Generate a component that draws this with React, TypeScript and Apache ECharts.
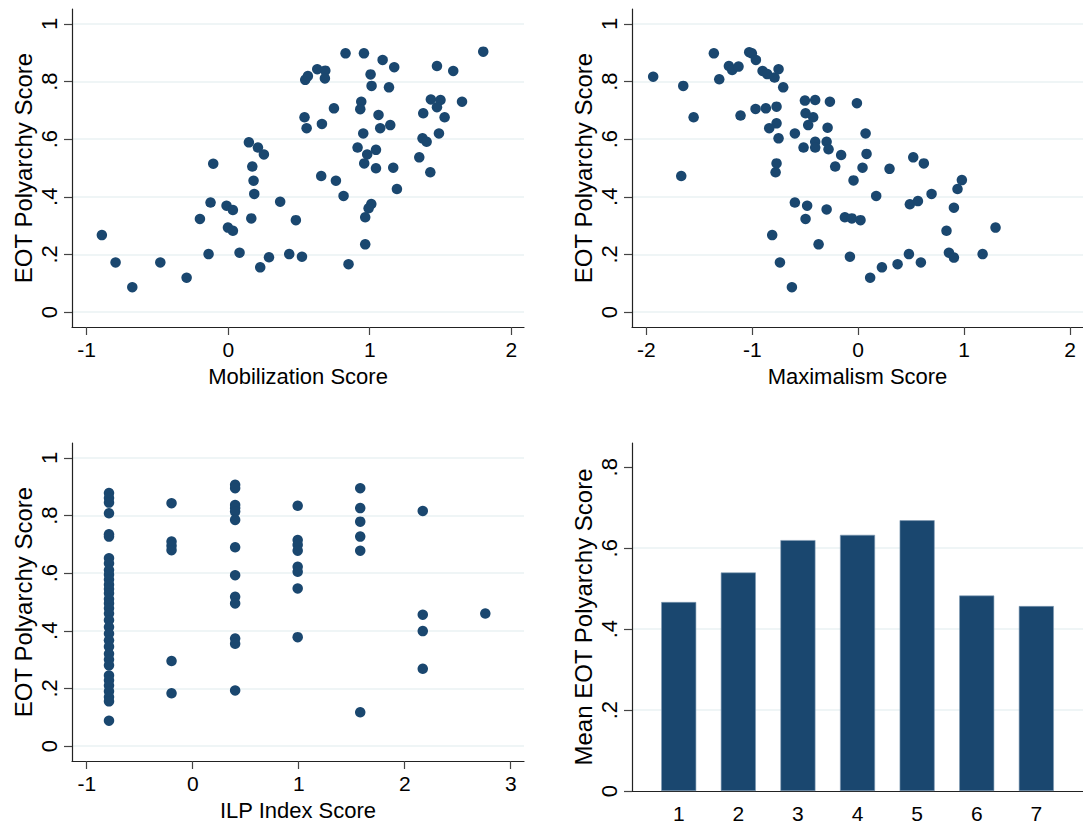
import React, { useEffect, useRef } from "react";
import * as echarts from "echarts";

// ---- Data ----
const mobilizationPoints: [number, number][] = [
  [-0.893, 0.267], [-0.796, 0.172], [-0.678, 0.086], [-0.48, 0.172], [-0.294, 0.119],
  [-0.2, 0.323], [-0.139, 0.201], [-0.125, 0.38], [-0.106, 0.515], [-0.012, 0.369],
  [0.033, 0.354], [-0.002, 0.293], [0.033, 0.282], [0.08, 0.206], [0.146, 0.589],
  [0.21, 0.571], [0.252, 0.547], [0.17, 0.505], [0.179, 0.456], [0.184, 0.41],
  [0.163, 0.325], [0.226, 0.155], [0.288, 0.19], [0.367, 0.383], [0.431, 0.201],
  [0.478, 0.319], [0.521, 0.192],
  [0.544, 0.806], [0.563, 0.819], [0.629, 0.843], [0.686, 0.838], [0.683, 0.811],
  [0.539, 0.676], [0.554, 0.638], [0.662, 0.653], [0.747, 0.707], [0.829, 0.898],
  [0.959, 0.898], [1.091, 0.875], [1.173, 0.85], [1.006, 0.825], [1.013, 0.785],
  [1.136, 0.78], [0.94, 0.73], [0.933, 0.704], [1.062, 0.684], [1.074, 0.638],
  [1.145, 0.649], [0.954, 0.62], [0.914, 0.571], [0.982, 0.547], [1.044, 0.563],
  [0.961, 0.516], [1.044, 0.499], [1.166, 0.501], [0.657, 0.472], [0.761, 0.456],
  [0.815, 0.403], [1.192, 0.427], [1.011, 0.375], [0.992, 0.36], [0.968, 0.329],
  [0.968, 0.235], [0.85, 0.166], [1.802, 0.904], [1.475, 0.854], [1.59, 0.837],
  [1.432, 0.738], [1.5, 0.736], [1.475, 0.711], [1.652, 0.73], [1.378, 0.69],
  [1.529, 0.676], [1.373, 0.603], [1.402, 0.591], [1.489, 0.62], [1.35, 0.537],
  [1.428, 0.485],
];

const maximalismPoints: [number, number][] = [
  [-1.936, 0.817], [-1.652, 0.785], [-1.554, 0.676], [-1.671, 0.472], [-1.363, 0.898],
  [-1.312, 0.808], [-1.221, 0.854], [-1.19, 0.84], [-1.13, 0.852], [-1.111, 0.682],
  [-1.029, 0.902], [-1.004, 0.898], [-0.966, 0.875], [-0.969, 0.705], [-0.903, 0.837],
  [-0.859, 0.826], [-0.872, 0.707], [-0.79, 0.814], [-0.752, 0.843], [-0.708, 0.78],
  [-0.771, 0.713], [-0.771, 0.655], [-0.84, 0.638], [-0.752, 0.603], [-0.771, 0.516],
  [-0.78, 0.485], [-0.598, 0.62], [-0.598, 0.38], [-0.812, 0.267], [-0.739, 0.172],
  [-0.626, 0.086], [-0.503, 0.734], [-0.497, 0.69], [-0.425, 0.676], [-0.472, 0.649],
  [-0.406, 0.736], [-0.267, 0.73], [-0.516, 0.571], [-0.406, 0.591], [-0.406, 0.571],
  [-0.482, 0.369], [-0.497, 0.323], [-0.374, 0.235], [-0.289, 0.64], [-0.298, 0.591],
  [-0.28, 0.565], [-0.298, 0.356], [-0.217, 0.505], [-0.161, 0.545], [-0.012, 0.725],
  [0.07, 0.62], [0.079, 0.549], [0.041, 0.501], [-0.044, 0.457], [0.296, 0.497],
  [0.52, 0.537], [0.62, 0.516], [0.17, 0.403], [-0.126, 0.329], [-0.06, 0.325],
  [0.022, 0.319], [0.488, 0.374], [0.564, 0.385], [0.693, 0.41], [0.979, 0.458],
  [0.938, 0.427], [0.904, 0.362], [0.834, 0.282], [1.297, 0.293], [-0.078, 0.192],
  [0.113, 0.119], [0.224, 0.155], [0.372, 0.166], [0.479, 0.201], [0.592, 0.172],
  [0.857, 0.206], [0.904, 0.189], [1.175, 0.201],
];

const ilpLevels: number[] = [-0.79, -0.2, 0.4, 0.99, 1.58, 2.17, 2.76];
const ilpScores: number[][] = [
  [0.878, 0.861, 0.845, 0.808, 0.735, 0.727, 0.652, 0.634, 0.611, 0.595, 0.578, 0.56,
    0.545, 0.53, 0.51, 0.495, 0.478, 0.46, 0.437, 0.413, 0.39, 0.367, 0.345, 0.32, 0.3,
    0.28, 0.245, 0.228, 0.21, 0.19, 0.17, 0.155, 0.088],
  [0.843, 0.71, 0.695, 0.68, 0.295, 0.183],
  [0.907, 0.895, 0.837, 0.826, 0.814, 0.785, 0.69, 0.593, 0.518, 0.495, 0.373, 0.355, 0.193],
  [0.834, 0.715, 0.698, 0.678, 0.622, 0.605, 0.547, 0.378],
  [0.895, 0.826, 0.779, 0.727, 0.678, 0.117],
  [0.816, 0.456, 0.399, 0.268],
  [0.46],
];

const barCategories: number[] = [1, 2, 3, 4, 5, 6, 7];
const barMeans: number[] = [0.467, 0.54, 0.62, 0.633, 0.669, 0.483, 0.457];

const yTicksScatter = [0, 0.2, 0.4, 0.6, 0.8, 1];
const yTicksBar = [0, 0.2, 0.4, 0.6, 0.8];
const yGridBar = [0.2, 0.4, 0.6];
const xTicksMob = [-1, 0, 1, 2];
const xTicksMax = [-2, -1, 0, 1, 2];
const xTicksIlp = [-1, 0, 1, 2, 3];

const NAVY = "#1a476f";
const GRID_COLOR = "#eaf2f3";
const FONT = "'Liberation Sans', Arial, Helvetica, sans-serif";

const fmt = (v: number) => {
  if (v === 0) return "0";
  if (v === 1) return "1";
  return v.toFixed(1).replace(/^0/, "");
};

function xAxisDef(gridIndex: number, min: number, max: number, ticks: number[], name: string, showTick = true) {
  return {
    type: "value",
    gridIndex,
    min,
    max,
    name,
    nameLocation: "middle",
    nameGap: 38,
    nameTextStyle: { fontFamily: FONT, fontSize: 22, color: "#000" },
    axisLine: { show: true, onZero: false, lineStyle: { color: "#222", width: 1.2 } },
    axisTick: { show: showTick, length: 8, customValues: ticks, lineStyle: { color: "#444", width: 1.2 } },
    axisLabel: {
      customValues: ticks,
      margin: 12,
      fontFamily: FONT,
      fontSize: 21,
      color: "#000",
      formatter: (v: number) => String(v),
    },
    splitLine: { show: false },
  };
}

function yAxisDef(gridIndex: number, min: number, max: number, ticks: number[], name: string, grid = true) {
  return {
    type: "value",
    gridIndex,
    min,
    max,
    name,
    nameLocation: "middle",
    nameRotate: 90,
    nameGap: 37,
    nameTextStyle: { fontFamily: FONT, fontSize: 24, color: "#000" },
    axisLine: { show: true, onZero: false, lineStyle: { color: "#222", width: 1.2 } },
    axisTick: { show: true, length: 8, customValues: ticks, lineStyle: { color: "#444", width: 1.2 } },
    axisLabel: {
      customValues: ticks,
      rotate: 90,
      margin: 12,
      fontFamily: FONT,
      fontSize: 22,
      color: "#000",
      formatter: fmt,
    },
    splitLine: { show: grid, lineStyle: { color: GRID_COLOR, width: 1.6 } },
  };
}

export default function App() {
  const ref = useRef<HTMLDivElement>(null);

  useEffect(() => {
    if (!ref.current) return;
    const chart = echarts.init(ref.current, undefined, { renderer: "svg" });

    const ilpPoints: [number, number][] = [];
    ilpLevels.forEach((lv, i) => ilpScores[i].forEach((s) => ilpPoints.push([lv, s])));
    const barData = barCategories.map((c, i) => [c, barMeans[i]]);

    const scatterStyle = {
      type: "scatter",
      symbolSize: 10.5,
      itemStyle: { color: NAVY, opacity: 1 },
      z: 3,
    };

    chart.setOption({
      animation: false,
      backgroundColor: "#ffffff",
      grid: [
        { left: 72, top: 9, width: 452, height: 318 },
        { left: 632, top: 9, width: 451, height: 318 },
        { left: 72, top: 443, width: 452, height: 318 },
        { left: 632, top: 443, width: 451, height: 348 },
      ],
      xAxis: [
        xAxisDef(0, -1.104, 2.09, xTicksMob, "Mobilization Score"),
        xAxisDef(1, -2.136, 2.123, xTicksMax, "Maximalism Score"),
        xAxisDef(2, -1.139, 3.125, xTicksIlp, "ILP Index Score"),
        xAxisDef(3, 0.216, 7.783, barCategories, "", false),
      ],
      yAxis: [
        yAxisDef(0, -0.052, 1.052, yTicksScatter, "EOT Polyarchy Score"),
        yAxisDef(1, -0.052, 1.052, yTicksScatter, "EOT Polyarchy Score"),
        yAxisDef(2, -0.052, 1.052, yTicksScatter, "EOT Polyarchy Score"),
        yAxisDef(3, 0, 0.86, yTicksBar, "Mean EOT Polyarchy Score", false),
        {
          type: "value",
          gridIndex: 3,
          min: 0,
          max: 0.86,
          axisLine: { show: false },
          axisLabel: { show: false },
          axisTick: { show: false, customValues: yGridBar },
          splitLine: { show: true, lineStyle: { color: GRID_COLOR, width: 1.6 } },
        },
      ],
      series: [
        { ...scatterStyle, xAxisIndex: 0, yAxisIndex: 0, data: mobilizationPoints },
        { ...scatterStyle, xAxisIndex: 1, yAxisIndex: 1, data: maximalismPoints },
        { ...scatterStyle, xAxisIndex: 2, yAxisIndex: 2, data: ilpPoints },
        {
          type: "bar",
          xAxisIndex: 3,
          yAxisIndex: 3,
          barWidth: 35,
          data: barData,
          itemStyle: { color: NAVY, borderColor: "#7f9ab4", borderWidth: 0.6, opacity: 1 },
          z: 3,
        },
      ],
    });

    return () => chart.dispose();
  }, []);

  return (
    <div
      ref={ref}
      style={{ position: "absolute", left: 0, top: 0, width: 1083, height: 828, background: "#fff" }}
    />
  );
}
